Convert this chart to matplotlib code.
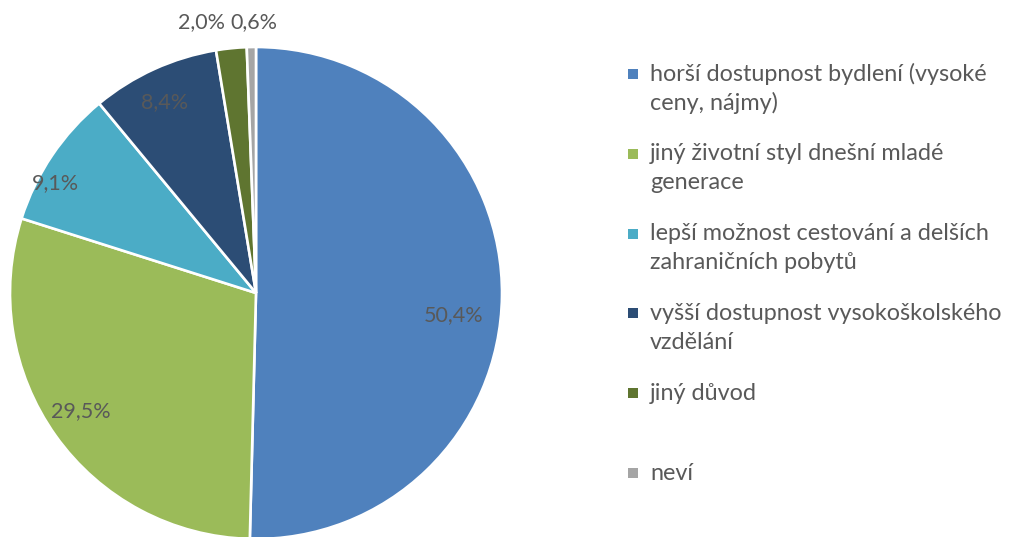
import matplotlib
matplotlib.use("Agg")
import matplotlib.pyplot as plt
import numpy as np

categories = [
    "horší dostupnost bydlení (vysoké\nceny, nájmy)",
    "jiný životní styl dnešní mladé\ngenerace",
    "lepší možnost cestování a delších\nzahraničních pobytů",
    "vyšší dostupnost vysokoškolského\nvzdělání",
    "jiný důvod",
    "neví",
]
values = [50.4, 29.5, 9.1, 8.4, 2.0, 0.6]
colors = ["#4F81BD", "#9BBB59", "#4BACC6", "#2C4D75", "#5F7530", "#A5A5A5"]

TXT = "#595959"
FONT = ["Lato", "DejaVu Sans"]

W, H = 1019, 537
fig = plt.figure(figsize=(W / 100, H / 100), dpi=100)
ax = fig.add_axes([0, 0, 1, 1])

cx, cy, R = 256, H - 293, 246
wedges, texts = ax.pie(
    values, colors=colors, startangle=90, counterclock=False,
    center=(cx, cy), radius=R,
    wedgeprops=dict(edgecolor="white", linewidth=1.9), frame=False,
)
ax.set_xlim(0, W)
ax.set_ylim(0, H)
ax.set_aspect("equal")
ax.axis("off")

def fmt(v):
    return f"{v:.1f}".replace(".", ",") + "%"

LFS = 15.5
dist = [0.81, 0.86, 0.93, 0.86, None, None]
dang = [-5.6, -1.5, 5.4, 1.1, 0, 0]
for w, v, d, da in zip(wedges, values, dist, dang):
    mid = (w.theta1 + w.theta2) / 2
    ang = np.deg2rad(mid + da)
    if d is not None:
        x = cx + d * R * np.cos(ang)
        y = cy + d * R * np.sin(ang)
        ax.text(x, y, fmt(v), ha="center", va="center", fontsize=LFS,
                color=TXT, family=FONT)
    else:
        x = cx + R * np.cos(ang)
        y = H - 22
        off = -30 if v > 1 else 3
        ax.text(x + off, y, fmt(v), ha="center", va="center",
                fontsize=LFS, color=TXT, family=FONT)

# legend
lx, ly0, step, lsp = 633, H - 74, 79.8, 29
for i, (lab, col) in enumerate(zip(categories, colors)):
    y = ly0 - i * step
    ax.add_patch(plt.Rectangle((lx - 5, y - 5), 10, 10, color=col, lw=0))
    for k, line in enumerate(lab.split("\n")):
        ax.text(lx + 17, y - k * lsp, line, ha="left", va="center",
                fontsize=16.8, color=TXT, family=FONT)

fig.savefig("out.png", dpi=100)
